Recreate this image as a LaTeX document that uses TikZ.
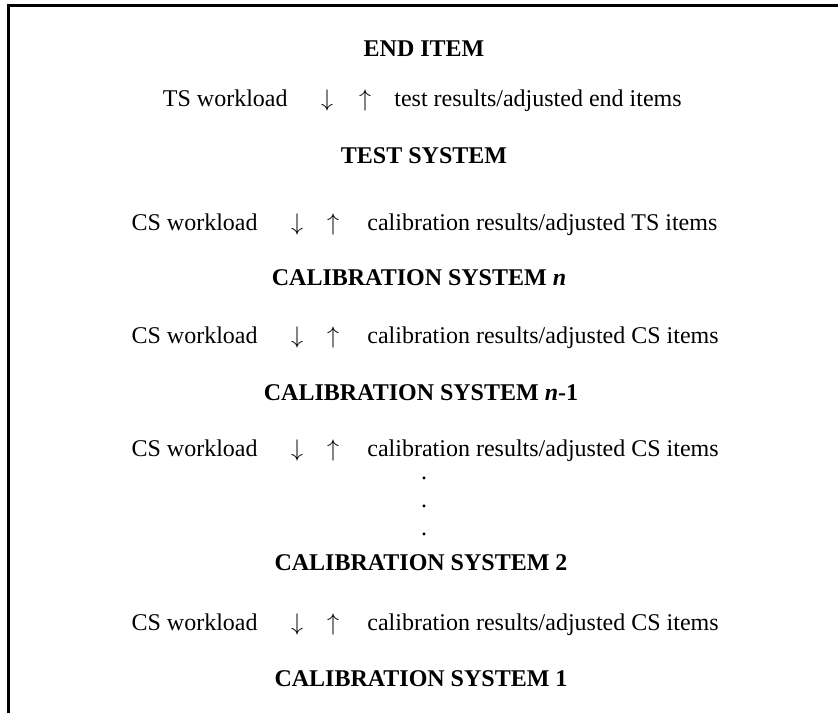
\documentclass[tikz,border=0pt]{standalone}
\usepackage{fontspec}
\setmainfont{Liberation Serif}
\usetikzlibrary{positioning}

\begin{document}
\begin{tikzpicture}[x=0.5pt, y=-0.5pt,
                    every node/.append style={inner sep=0pt, anchor=base, font=\fontsize{12pt}{14pt}\selectfont},
                    level/.style={font=\fontsize{12pt}{14pt}\selectfont\bfseries},
                    load/.style={anchor=base east},
                    result/.style={anchor=base west},
                    frame/.style={line width=1.5pt, line cap=rect}]
    \useasboundingbox (0,0) rectangle (838,712);

    % Open frame (top and left side only)
    \draw [frame] (8.5,712) -- (8.5,5.5) -- (838,5.5);

    \node [level] (enditem) at (424,56) {END ITEM};

    % End item <-> test system
    \node [load]   (ts_load) at (288,106) {TS workload};
    \node []       (ts_dn)   at (327,106) {$\downarrow$};
    \node []       (ts_up)   at (365,106) {$\uparrow$};
    \node [result] (ts_res)  at (394,106) {test results/adjusted end items};

    \node [level] (testsys) at (424,163) {TEST SYSTEM};

    % Test system <-> calibration system n
    \node [load]   (cs1_load) at (258,230) {CS workload};
    \node []       (cs1_dn)   at (297,230) {$\downarrow$};
    \node []       (cs1_up)   at (333,230) {$\uparrow$};
    \node [result] (cs1_res)  at (367,230) {calibration results/adjusted TS items};

    \node [level] (calsys_n) at (419,285) {CALIBRATION SYSTEM \textit{n}};

    % Calibration system n <-> n-1
    \node [load]   (cs2_load) at (258,343) {CS workload};
    \node []       (cs2_dn)   at (297,343) {$\downarrow$};
    \node []       (cs2_up)   at (333,343) {$\uparrow$};
    \node [result] (cs2_res)  at (367,343) {calibration results/adjusted CS items};

    \node [level] (calsys_nm1) at (421,400) {CALIBRATION SYSTEM \textit{n}-1};

    % Calibration system n-1 <-> ...
    \node [load]   (cs3_load) at (258,456) {CS workload};
    \node []       (cs3_dn)   at (297,456) {$\downarrow$};
    \node []       (cs3_up)   at (333,456) {$\uparrow$};
    \node [result] (cs3_res)  at (367,456) {calibration results/adjusted CS items};

    % Dots for the systems left out
    \node [] (dot_a) at (424,479) {.};
    \node [] (dot_b) at (424,507) {.};
    \node [] (dot_c) at (424,535) {.};

    \node [level] (calsys_2) at (421,570) {CALIBRATION SYSTEM 2};

    % Calibration system 2 <-> 1
    \node [load]   (cs4_load) at (258,630) {CS workload};
    \node []       (cs4_dn)   at (297,630) {$\downarrow$};
    \node []       (cs4_up)   at (333,630) {$\uparrow$};
    \node [result] (cs4_res)  at (367,630) {calibration results/adjusted CS items};

    \node [level] (calsys_1) at (421,686) {CALIBRATION SYSTEM 1};
\end{tikzpicture}
\end{document}
